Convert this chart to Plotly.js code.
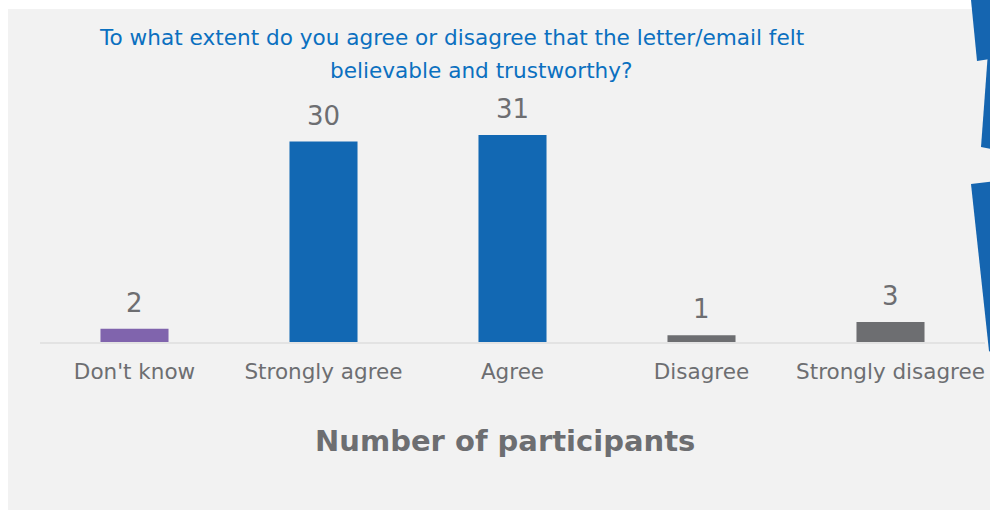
<!DOCTYPE html>
<html>
<head>
<meta charset="utf-8">
<script src="https://cdn.plot.ly/plotly-3.0.1.min.js"></script>
<style>html,body{margin:0;padding:0;background:#fff;}#chart{width:990px;height:510px;}</style>
</head>
<body>
<div id="chart"></div>
<script>
const categories = ["Don't know", "Strongly agree", "Agree", "Disagree", "Strongly disagree"];
const values = [2, 30, 31, 1, 3];
const barColors = ["#8064ad", "#1268b3", "#1268b3", "#6d6e71", "#6d6e71"];
const titleLines = ["To what extent do you agree or disagree that the letter/email felt", "believable and trustworthy?"];
const axisTitle = "Number of participants";

const W = 990, H = 510, ML = 40, MR = 5, MT = 100, MB = 168;
const PW = W - ML - MR, PH = H - MT - MB;
const px = x => (x - ML) / PW;
const py = y => (H - MB - y) / PH;
const poly = pts => 'M ' + pts.map(p => px(p[0]) + ',' + py(p[1])).join(' L ') + ' Z';

const FONT = 'DejaVu Sans, Verdana, sans-serif';
const GREY = '#6d6e71';

const trace = {
  type: 'bar',
  x: categories,
  y: values,
  width: 0.36,
  marker: {color: barColors},
  hoverinfo: 'none'
};

const annotations = categories.map((c, i) => ({
  x: c, y: values[i], xref: 'x', yref: 'y',
  text: String(values[i]), showarrow: false,
  yanchor: 'bottom', yshift: 9,
  font: {family: FONT, size: 26, color: GREY}
}));
annotations.push({
  x: px(451), y: py(38), xref: 'paper', yref: 'paper', showarrow: false,
  text: titleLines[0], xanchor: 'center', yanchor: 'middle',
  font: {family: FONT, size: 21.6, color: '#0b70c0'}
});
annotations.push({
  x: px(481), y: py(70), xref: 'paper', yref: 'paper', showarrow: false,
  text: titleLines[1], xanchor: 'center', yanchor: 'middle',
  font: {family: FONT, size: 21.6, color: '#0b70c0'}
});
annotations.push({
  x: px(505), y: py(441), xref: 'paper', yref: 'paper', showarrow: false,
  text: '<b>' + axisTitle + '</b>', xanchor: 'center', yanchor: 'middle',
  font: {family: FONT, size: 29, color: GREY}
});

const blue = '#1565b0';
const shapes = [
  {type: 'rect', xref: 'paper', yref: 'paper', x0: px(8), x1: px(990), y0: py(9), y1: py(510),
   fillcolor: '#f2f2f2', line: {width: 0}, layer: 'below'},
  {type: 'path', xref: 'paper', yref: 'paper', path: poly([[988,52],[996,52],[996,150],[981,147]]),
   fillcolor: blue, line: {width: 0}, layer: 'above'},
  {type: 'path', xref: 'paper', yref: 'paper', path: poly([[971,0],[996,0],[996,58],[977,61]]),
   fillcolor: blue, line: {width: 0}, layer: 'above'},
  {type: 'path', xref: 'paper', yref: 'paper', path: poly([[971,184],[996,181],[996,356],[989,351]]),
   fillcolor: blue, line: {width: 0}, layer: 'above'}
];

const layout = {
  width: W, height: H,
  margin: {l: ML, r: MR, t: MT, b: MB, pad: 0},
  paper_bgcolor: 'rgba(0,0,0,0)',
  plot_bgcolor: 'rgba(0,0,0,0)',
  showlegend: false,
  bargap: 0.64,
  xaxis: {
    type: 'category',
    showline: true, linecolor: '#e3e3e3', linewidth: 2,
    ticks: '', showgrid: false, zeroline: false,
    ticklabelstandoff: 9,
    tickfont: {family: FONT, size: 21.5, color: GREY},
    fixedrange: true
  },
  yaxis: {
    range: [0, PH / 6.68],
    visible: false, showgrid: false, zeroline: false, fixedrange: true
  },
  annotations: annotations,
  shapes: shapes
};

Plotly.newPlot('chart', [trace], layout, {displayModeBar: false, staticPlot: true});
</script>
</body>
</html>
